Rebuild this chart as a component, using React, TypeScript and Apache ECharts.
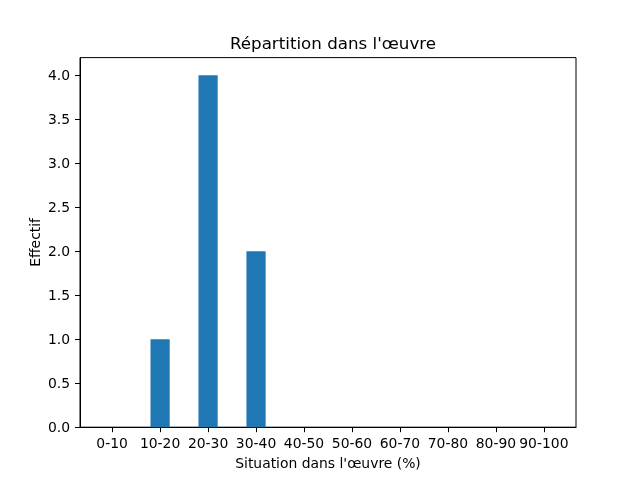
import React, { useEffect, useRef } from "react";
import * as echarts from "echarts";

const categories = ["0-10", "10-20", "20-30", "30-40", "40-50", "50-60", "60-70", "70-80", "80-90", "90-100"];
const counts = [0, 1, 4, 2, 0, 0, 0, 0, 0, 0];
const yTicks = [0, 0.5, 1, 1.5, 2, 2.5, 3, 3.5, 4];
const titleText = "Répartition dans l'œuvre";
const xLabel = "Situation dans l'œuvre (%)";
const yLabel = "Effectif";

export default function App() {
  const ref = useRef<HTMLDivElement>(null);
  useEffect(() => {
    const chart = echarts.init(ref.current!, null, { renderer: "svg" });
    const font = "DejaVu Sans";
    const xPositions = categories.map((_, i) => i);
    chart.setOption({
      animation: false,
      textStyle: { fontFamily: font },
      title: {
        text: titleText,
        left: 328,
        top: 29,
        textAlign: "center",
        textStyle: { fontFamily: font, fontSize: 16.7, fontWeight: "normal", color: "#000" },
      },
      grid: {
        left: 80,
        right: 64,
        top: 57.6,
        bottom: 52.8,
        show: true,
        borderColor: "#000",
        borderWidth: 1,
        containLabel: false,
      },
      xAxis: {
        type: "value",
        min: -0.67,
        max: 9.67,
        name: xLabel,
        nameLocation: "middle",
        nameGap: 29,
        nameMoveOverlap: false,
        nameTextStyle: { fontFamily: font, fontSize: 13.9, color: "#000" },
        axisLine: { show: true, onZero: false, lineStyle: { color: "#000", width: 1 } },
        axisTick: { show: true, length: 5, lineStyle: { color: "#000" }, customValues: xPositions },
        axisLabel: {
          show: true,
          margin: 9,
          color: "#000",
          fontFamily: font,
          fontSize: 13.9,
          customValues: xPositions,
          formatter: (v: number) => categories[Math.round(v)] ?? "",
        },
        splitLine: { show: false },
      },
      yAxis: {
        type: "value",
        min: 0,
        max: 4.2,
        name: yLabel,
        nameLocation: "middle",
        nameGap: 38,
        nameMoveOverlap: false,
        nameTextStyle: { fontFamily: font, fontSize: 13.9, color: "#000" },
        axisLine: { show: true, onZero: false, lineStyle: { color: "#000", width: 1 } },
        axisTick: { show: true, length: 5, lineStyle: { color: "#000" }, customValues: yTicks },
        axisLabel: {
          show: true,
          margin: 10,
          color: "#000",
          fontFamily: font,
          fontSize: 13.9,
          customValues: yTicks,
          formatter: (v: number) => v.toFixed(1),
        },
        splitLine: { show: false },
      },
      series: [
        {
          type: "bar",
          data: counts.map((c, i) => [i, c]),
          barWidth: 19.2,
          itemStyle: { color: "#1f77b4" },
        },
      ],
    });
    return () => chart.dispose();
  }, []);
  return <div ref={ref} style={{ position: "fixed", left: 0, top: 0, width: 640, height: 480 }} />;
}
